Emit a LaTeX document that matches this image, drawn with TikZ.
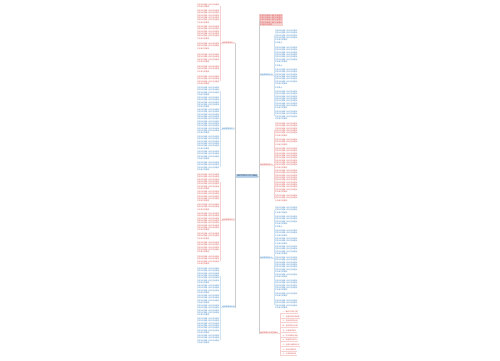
\documentclass[tikz,border=0pt]{standalone}
\usepackage{fontspec}
\newfontfamily\cjk{Noto Sans CJK SC}
\XeTeXlinebreaklocale "zh"
\XeTeXlinebreakskip=0pt plus 0.3pt
\usetikzlibrary{positioning, calc}
\definecolor{rojo}{HTML}{D9534F}
\definecolor{azul}{HTML}{3D85C6}
\definecolor{rosa}{HTML}{F6CFCF}
\definecolor{celeste}{HTML}{CFE2F3}
\definecolor{cielo}{HTML}{B9D5EE}
\definecolor{tinta}{HTML}{1F3B5A}
\newcommand{\relleno}[1]{\ifnum#1>1 \foreach \k in {2,...,#1}{在成长的道路上我们总会遇到}\fi 许多难忘的事情。}

\begin{document}
\begin{tikzpicture}[x=1pt, y=-1pt,
		parrafo/.style={anchor=north west, inner sep=0pt, text width=22.2pt, align=justify, font=\cjk\fontsize{1.7}{2.3}\selectfont},
		rama/.style={inner sep=0.4pt, font=\cjk\fontsize{1.8}{2}\selectfont},
		punto/.style={anchor=south west, inner sep=0.3pt, text=rojo, font=\cjk\fontsize{1.7}{2}\selectfont},
		linea/.style={line width=0.3pt}]
	\fill[white] (0,0) rectangle (500,360);
	\useasboundingbox (0,0) rectangle (500,360);
	% centro
	\node[fill=cielo, text=tinta, inner sep=1pt, font=\cjk\fontsize{2}{2.2}\selectfont] (centro) at (247,176) {我的梦想作文范文精选};
	% ramas izquierdas
	\node[rama, text=rojo, fill=rosa!50] (izq1) at (228.5,43)  {我的梦想范文一};
	\node[rama, text=azul, fill=celeste!60] (izq2) at (228.5,129) {我的梦想范文二};
	\node[rama, text=rojo, fill=rosa!50] (izq3) at (228.5,220) {我的梦想范文三};
	\node[rama, text=azul, fill=celeste!60] (izq4) at (228.5,307) {我的梦想范文四};
	\foreach \r in {1,...,4}
		\draw[linea, gray!40] (centro.west) -- ++(-0.6,0) |- (izq\r.east);
	\foreach \y/\n [count=\i] in {4/2,10/6,26/6,43/3,54/4,66/3,76/4}{
		\node[parrafo, text=rojo] (p1-\i) at (197,\y) {\relleno{\n}};
		\draw[linea, rosa] (izq1.west) -- ++(-1.4,0) |- (p1-\i.east);
	}
	\foreach \y/\n [count=\i] in {87/4,97/5,109/11,136/6,151/4,162/4}{
		\node[parrafo, text=azul] (p2-\i) at (197,\y) {\relleno{\n}};
		\draw[linea, celeste] (izq2.west) -- ++(-1.4,0) |- (p2-\i.east);
	}
	\foreach \y/\n [count=\i] in {174/7,191/5,204/3,213/8,233/3,242/5,256/4}{
		\node[parrafo, text=rojo] (p3-\i) at (197,\y) {\relleno{\n}};
		\draw[linea, rosa] (izq3.west) -- ++(-1.4,0) |- (p3-\i.east);
	}
	\foreach \y/\n [count=\i] in {268/7,285/4,295/4,305/5,318/7,335/4}{
		\node[parrafo, text=azul] (p4-\i) at (197,\y) {\relleno{\n}};
		\draw[linea, celeste] (izq4.west) -- ++(-1.4,0) |- (p4-\i.east);
	}
	% ramas derechas
	\node[parrafo, fill=rosa, text=rojo, inner sep=0.6pt] (nota) at (259,14) {\relleno{5}};
	\node[rama, text=azul, fill=celeste!60] (der1) at (266.5,75)  {我的梦想范文五};
	\node[rama, text=rojo, fill=rosa!50] (der2) at (266.5,165) {我的梦想范文六};
	\node[rama, text=azul, fill=celeste!60] (der3) at (266.5,258) {我的梦想范文七};
	\node[rama, text=rojo, fill=rosa!50] (der4) at (269,333) {我的梦想作文写作要点};
	\draw[linea, gray!40] (centro.east) -- ++(0.6,0) |- (nota.west);
	\foreach \r in {1,...,4}
		\draw[linea, gray!40] (centro.east) -- ++(0.6,0) |- (der\r.west);
	\foreach \y/\n [count=\i] in {30/5,42/0,47/7,65/0,69/7,87/0,91/8,111/4}{
		\node[parrafo, text=azul] (p5-\i) at (275,\y) {\ifnum\n=0 写作要点：\else\relleno{\n}\fi};
		\draw[linea, celeste] (der1.east) -- ++(0.9,0) |- (p5-\i.west);
	}
	\foreach \y/\n [count=\i] in {123/6,139/3,148/9,170/10,195/3}{
		\node[parrafo, text=rojo] (p6-\i) at (275,\y) {\relleno{\n}};
		\draw[linea, rosa] (der2.east) -- ++(0.9,0) |- (p6-\i.west);
	}
	\foreach \y/\n [count=\i] in {207/3,216/4,226/0,230/3,238/3,246/4,257/7,274/2,280/5,293/2,300/4}{
		\node[parrafo, text=azul] (p7-\i) at (275,\y) {\ifnum\n=0 写作要点：\else\relleno{\n}\fi};
		\draw[linea, celeste] (der3.east) -- ++(0.9,0) |- (p7-\i.west);
	}
	\foreach \t [count=\i] in {一、确定写作的主题,二、合理安排文章结构,三、选择真实的材料,四、语言要生动形象,五、注意细节描写,六、开头要吸引读者,七、结尾要点明中心,八、运用多种修辞手法,九、表达真情实感,十、认真修改文章}{
		\node[punto] (p8-\i) at (282,{308.5+4.7*\i}) {\t};
		\draw[linea, rosa] (der4.east) -- ++(1.5,0) |- (p8-\i.south west) -- (p8-\i.south east);
	}
\end{tikzpicture}
\end{document}
